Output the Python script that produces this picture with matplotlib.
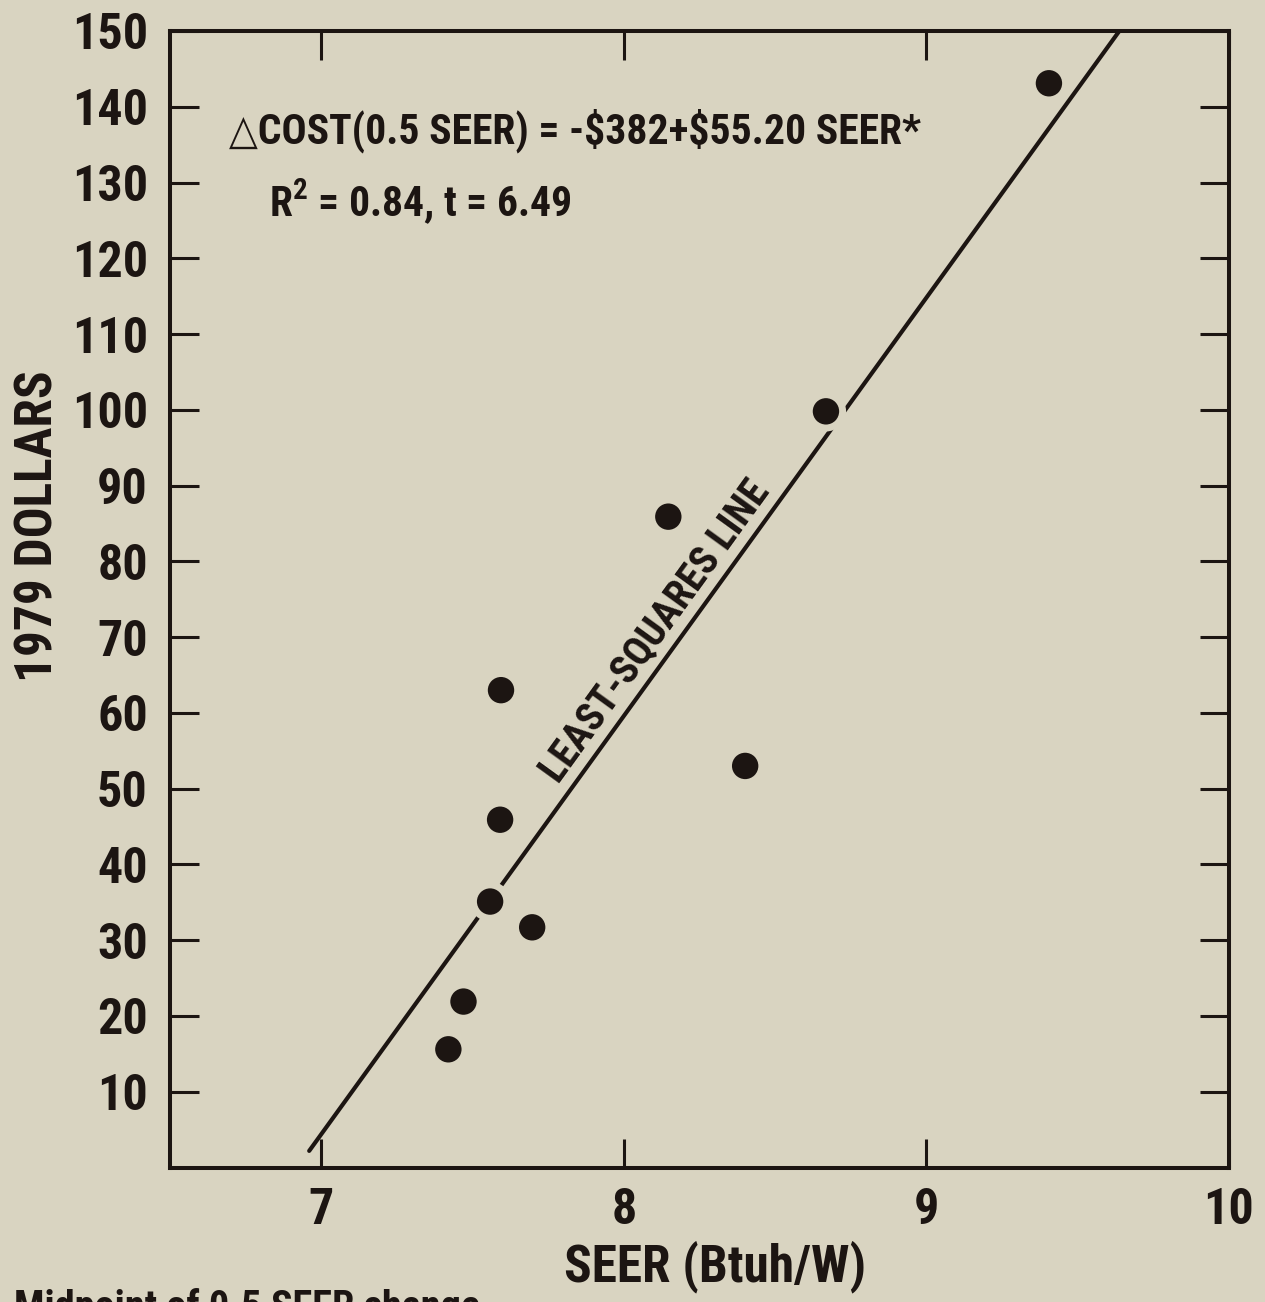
import numpy as np
import matplotlib
matplotlib.use("Agg")
import matplotlib.pyplot as plt
from matplotlib import font_manager

# SEER of each unit and the cost of a 0.5 SEER step (1979 dollars)
seer = [9.405, 8.668, 8.147, 8.401, 7.594, 7.591, 7.558, 7.697, 7.470, 7.420]
cost = [143.1, 99.8, 85.9, 53.0, 63.0, 45.9, 35.1, 31.7, 21.9, 15.6]
# points where the fitted line is broken around the dot
breaks_line = [False, True, False, False, False, False, True, False, False, False]

# least-squares fit: cost = a + b * SEER
fit_a = -382.0
fit_b = 55.20
fit_x0 = 6.96

x_ticks = [7, 8, 9, 10]
y_ticks = list(range(10, 160, 10))

eq_text = "\u25b3COST(0.5 SEER) = -\\$382+\\$55.20 SEER*"
stat_text = r"R$^{\mathbf{2}}$ = 0.84, t = 6.49"
note_text = "Midpoint of 0.5 SEER change"

bg = "#d9d4c1"
ink = "#1c1512"

# look for a condensed bold face
fonts = font_manager.fontManager.ttflist
narrow = ["condensed", "semi-condensed", "extra-condensed", "ultra-condensed"]
main_font, main_stretch = "DejaVu Sans", "normal"
for want in ["Liberation Sans Narrow", "Roboto Condensed", "Open Sans Condensed",
             "Noto Sans Condensed", "DejaVu Sans"]:
    hit = [f for f in fonts if f.name == want and
           (f.stretch in narrow or want != "DejaVu Sans")]
    if hit:
        main_font = want
        main_stretch = hit[0].stretch
        break
if main_font == "DejaVu Sans" and main_stretch == "normal":
    cond = [f for f in fonts if f.stretch in narrow]
    if cond:
        main_font, main_stretch = cond[0].name, cond[0].stretch

plt.rcParams["font.family"] = [main_font, "DejaVu Sans"]
plt.rcParams["font.stretch"] = main_stretch
plt.rcParams["font.weight"] = "bold"
plt.rcParams["mathtext.fontset"] = "custom"
plt.rcParams["mathtext.rm"] = main_font + ":bold"
plt.rcParams["mathtext.bf"] = main_font + ":bold"

fig = plt.figure(figsize=(12.65, 13.02), dpi=100, facecolor=bg)
ax = fig.add_axes([0.1344, 0.1033, 0.8371, 0.8729], facecolor=bg)

ax.set_xlim(6.5, 10)
ax.set_ylim(0, 150)

# fitted line, clipped at the top of the frame
x_top = (150 - fit_a) / fit_b
xs = np.array([fit_x0, x_top])
ax.plot(xs, fit_a + fit_b * xs, color=ink, lw=3.0, solid_capstyle="round", zorder=2)

# background halos cut the line where it meets a dot
hx = [x for x, b in zip(seer, breaks_line) if b]
hy = [y for y, b in zip(cost, breaks_line) if b]
ax.scatter(hx, hy, s=29 ** 2, color=bg, edgecolors="none", zorder=3)
ax.scatter(seer, cost, s=19 ** 2, color=ink, edgecolors="none", zorder=4)

for side in ["left", "right", "top", "bottom"]:
    ax.spines[side].set_linewidth(2.9)
    ax.spines[side].set_color(ink)

ax.set_xticks(x_ticks)
ax.set_yticks(y_ticks)
ax.tick_params(axis="both", direction="in", length=21, width=2.2, color=ink,
               labelsize=36, labelcolor=ink, top=True, right=True)
ax.tick_params(axis="y", pad=16)
ax.tick_params(axis="x", pad=14)
for lab in ax.get_xticklabels() + ax.get_yticklabels():
    lab.set_fontweight("bold")

ax.set_xlabel("SEER (Btuh/W)", fontsize=37, fontweight="bold", color=ink)
ax.xaxis.set_label_coords(0.5146, -0.064)
ax.set_ylabel("1979 DOLLARS", fontsize=37, fontweight="bold", color=ink)
ax.yaxis.set_label_coords(-0.101, 0.5645)

ax.text(6.694, 135.2, eq_text, fontsize=30, fontweight="bold", color=ink,
        ha="left", va="baseline")
ax.text(6.826, 125.5, stat_text, fontsize=30, fontweight="bold", color=ink,
        ha="left", va="baseline")

angle = np.degrees(np.arctan(fit_b))
ax.text(8.105, 70.8, "LEAST-SQUARES LINE", fontsize=29, fontweight="bold", color=ink,
        ha="center", va="center", rotation=angle, rotation_mode="anchor",
        transform_rotates_text=True)

fig.text(14 / 1265, (1302 - 1288) / 1302, note_text, fontsize=29,
         fontweight="bold", color=ink, ha="left", va="top")

fig.savefig("out.png", dpi=100, facecolor=bg)
